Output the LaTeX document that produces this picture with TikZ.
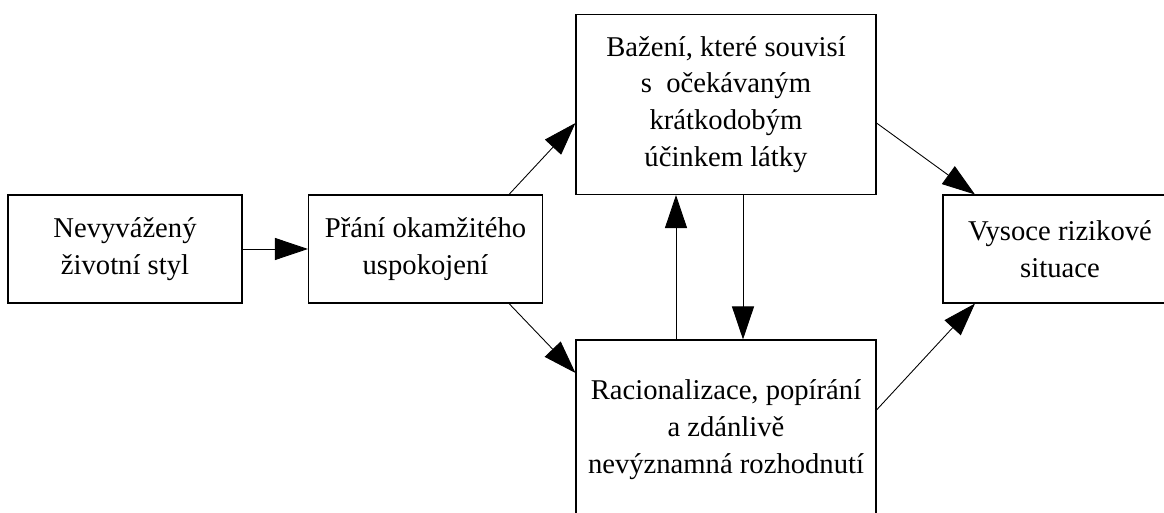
\documentclass[tikz,border=0pt]{standalone}
\usepackage{fontspec}
\setmainfont{Liberation Serif}
\usetikzlibrary{arrows.meta}

\begin{document}
\begin{tikzpicture}[
      box/.style={draw, line width=0.6pt, minimum width=4.68cm, minimum height=2.16cm,
                  inner sep=0pt, align=center, font=\fontsize{16.3}{21}\selectfont},
      wide/.style={box, minimum width=6.0cm, minimum height=3.6cm},
      arr/.style={-{Triangle[length=0.66cm, width=0.44cm]}, line width=0.5pt}]

    \useasboundingbox (0,0) rectangle (23.28,-10.26);

    % ============================================
    % boxes
    % ============================================
    \node[box] (styl) at (2.50, -4.98) {Nevyvážený\\životní styl};
    \node[box] (prani) at (8.51, -4.98) {Přání okamžitého\\uspokojení};
    \node[wide] (bazeni) at (14.52, -2.09) {Bažení, které souvisí\\s\ \ očekávaným\\krátkodobým\\účinkem látky};
    \node[wide] (racio) at (14.52, -8.60) {Racionalizace, popírání\\a zdánlivě\\nevýznamná rozhodnutí};
    \node[box] (riziko) at (21.20, -4.98) {Vysoce rizikové\\situace};

    % ============================================
    % arrows
    % ============================================
    \draw[arr] (styl) -- (prani);
    \draw[arr] ([xshift=1.67cm]prani.north) -- ([yshift=-0.37cm]bazeni.west);
    \draw[arr] ([xshift=1.67cm]prani.south) -- ([yshift=1.14cm]racio.west);

    % loop between craving and rationalisation
    \draw[arr] ([xshift=-1.0cm]racio.north) -- ([xshift=-1.0cm]bazeni.south);
    \draw[arr] ([xshift=0.34cm]bazeni.south) -- ([xshift=0.34cm]racio.north);

    \draw[arr] ([yshift=-0.37cm]bazeni.east) -- ([xshift=-1.70cm]riziko.north);
    \draw[arr] ([yshift=0.40cm]racio.east) -- ([xshift=-1.70cm]riziko.south);

\end{tikzpicture}
\end{document}
